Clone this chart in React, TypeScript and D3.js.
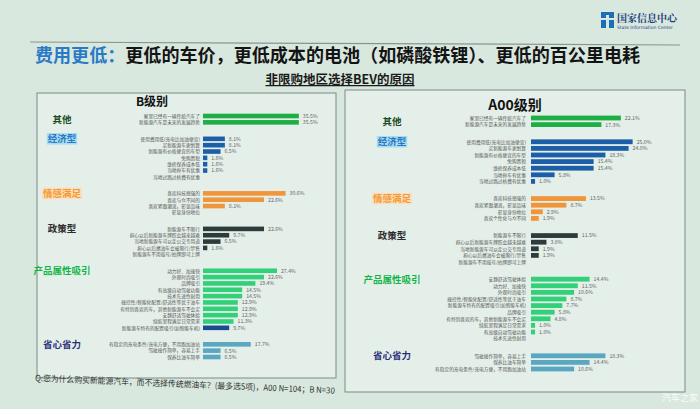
import React from "react";
import * as d3 from "d3";

// ---------- DATA ----------
const groupNames = ["其他", "经济型", "情感满足", "政策型", "产品属性吸引", "省心省力"];

// B级别
const bOtherLabels = ["家里已经有一辆传统汽车了", "新能源汽车是未来的发展趋势"];
const bOtherValues = [35.5, 35.5];
const bEconLabels = ["使用费用低(充电比加油便宜)", "买新能源车更划算", "新能源有价格便宜的车型", "免购置税", "维修保养成本低", "当地停车有优惠", "当地过路过桥费有优惠"];
const bEconValues = [8.1, 8.1, 6.5, 1.6, 1.6, 1.6, 0];
const bEmoLabels = ["喜欢科技感强的", "喜欢与众不同的", "喜欢紧跟潮流，彰显品味", "彰显身份地位"];
const bEmoValues = [30.6, 22.6, 8.1, 0];
const bPolicyLabels = ["新能源车不限行", "担心以后新能源车牌照会越来越难", "当地新能源车可以走公交专用道", "担心以后燃油车会被限行/禁售", "新能源车不用摇号/拍牌即可上牌"];
const bPolicyValues = [22.6, 9.7, 6.5, 1.6, 0];
const bProdLabels = ["动力好、加速快", "外观时尚吸引", "品牌吸引", "有高级自动驾驶功能", "技术先进性耐用", "操控性/智能化配置/舒适性等优于油车", "有特别喜欢的车，其他新能源车不会买", "安静舒适驾驶体验", "续航里程满足日常需求", "新能源车特有的配置吸引(如智能车机)"];
const bProdValues = [27.4, 22.6, 19.4, 14.5, 14.5, 12.9, 12.9, 12.9, 11.3, 9.7];
const bEaseLabels = ["有稳定的充电条件/充电方便，不用跑加油站", "驾驶操作简单，容易上手", "保养比油车简单"];
const bEaseValues = [17.7, 6.5, 6.5];

// A00级别
const aOtherLabels = ["家里已经有一辆传统汽车了", "新能源汽车是未来的发展趋势"];
const aOtherValues = [22.1, 17.3];
const aEconLabels = ["使用费用低(充电比加油便宜)", "买新能源车更划算", "新能源有价格便宜的车型", "免购置税", "维修保养成本低", "当地停车有优惠", "当地过路过桥费有优惠"];
const aEconValues = [25.0, 24.0, 18.3, 15.4, 15.4, 5.8, 1.0];
const aEmoLabels = ["喜欢科技感强的", "喜欢紧跟潮流，彰显品味", "彰显身份地位", "喜欢个性化与众不同"];
const aEmoValues = [13.5, 8.7, 2.9, 1.9];
const aPolicyLabels = ["新能源车不限行", "担心以后新能源车牌照会越来越难", "当地新能源车可以走公交专用道", "担心以后燃油车会被限行/禁售", "新能源车不用摇号/拍牌即可上牌"];
const aPolicyValues = [11.5, 3.8, 1.9, 1.9, 0];
const aProdLabels = ["安静舒适驾驶体验", "动力好、加速快", "外观时尚吸引", "操控性/智能化配置/舒适性等优于油车", "新能源车特有的配置吸引(如智能车机)", "品牌吸引", "有特别喜欢的车，其他新能源车不会买", "续航里程满足日常需求", "有高级自动驾驶功能", "技术先进性耐用"];
const aProdValues = [14.4, 11.5, 10.6, 8.7, 7.7, 5.8, 4.8, 1.0, 1.0, 0];
const aEaseLabels = ["驾驶操作简单，容易上手", "保养比油车简单", "有稳定的充电条件/充电方便，不用跑加油站"];
const aEaseValues = [18.3, 14.4, 10.6];

const titleBlue = "费用更低：";
const titleRest = "更低的车价，更低成本的电池（如磷酸铁锂）、更低的百公里电耗";
const subtitle = "非限购地区选择BEV的原因";
const footer = "Q:您为什么购买新能源汽车，而不选择传统燃油车？(最多选5项)，A00 N=104；B N=30";

// ---------- STYLE ----------
const groupBarColors = ["#1fae45", "#1d5ea8", "#f0953a", "#2d3b3a", "#33d07a", "#5aa7c2"];
const highlightColor = "#1b4c90";
const FONT = "'Noto Sans CJK SC', 'Noto Sans', sans-serif";

type Group = { labels: string[]; values: number[] };

function Panel(props: {
  title: string;
  groups: Group[];
  x0: number; y0: number; x1: number; y1: number;
  titleX: number; titleY: number; titleSize: number;
  catX: number;
  labelRight: number;
  barRange: [number, number];
  maxV: number;
  yFirst: number; yLast: number;
  barH: number;
  highlight?: [number, number];
}) {
  const p = props;
  const gap = 1.6;
  const slots: { g: number; i: number; slot: number }[] = [];
  let s = 0;
  p.groups.forEach((g, gi) => {
    if (gi > 0) s += gap;
    g.labels.forEach((_, i) => {
      slots.push({ g: gi, i, slot: s });
      s += 1;
    });
  });
  const y = d3.scaleLinear().domain([0, s - 1]).range([p.yFirst, p.yLast]);
  const x = d3.scaleLinear().domain([0, p.maxV]).range(p.barRange);
  const catStyle = [
    { color: "#1e4d2b", bg: null },
    { color: "#2a78c8", bg: "#a8ddef" },
    { color: "#f39a35", bg: "#fbe0bf" },
    { color: "#2b2b2b", bg: null },
    { color: "#12b548", bg: null },
    { color: "#2c2f78", bg: null },
  ];
  return (
    <g>
      <rect x={p.x0} y={p.y0} width={p.x1 - p.x0} height={p.y1 - p.y0} fill="#e4efe9" stroke="#7d8a84" strokeWidth={1} />
      <text x={p.titleX} y={p.titleY} fontSize={p.titleSize} fontWeight="bold" fill="#111" textAnchor="middle" fontFamily={FONT}>{p.title}</text>
      {p.groups.map((g, gi) => {
        const rows = slots.filter((r) => r.g === gi);
        const cy = gi === 0 ? (y(rows[0].slot) + y(rows[rows.length - 1].slot)) / 2 : y(rows[0].slot);
        const st = catStyle[gi];
        const fs = 9.5;
        const w = groupNames[gi].length * fs;
        return (
          <g key={gi}>
            {st.bg && <rect x={p.catX - w / 2 - 1} y={cy - fs / 2 - 1} width={w + 2} height={fs + 2} fill={st.bg} />}
            <text x={p.catX} y={cy + fs * 0.36} fontSize={fs} fontWeight="bold" fill={st.color} textAnchor="middle" fontFamily={FONT}>{groupNames[gi]}</text>
          </g>
        );
      })}
      {slots.map((r, k) => {
        const v = p.groups[r.g].values[r.i];
        const lab = p.groups[r.g].labels[r.i];
        const cy = y(r.slot);
        const isHi = p.highlight && p.highlight[0] === r.g && p.highlight[1] === r.i;
        const color = isHi ? highlightColor : groupBarColors[r.g];
        return (
          <g key={k}>
            <text x={p.labelRight} y={cy + 1.8} fontSize={4.7} fill="#555" textAnchor="end" fontFamily={FONT}>{lab}</text>
            {v > 0 && (
              <>
                <rect x={x(0)} y={cy - p.barH / 2} width={x(v) - x(0)} height={p.barH} fill={color} />
                <text x={x(v) + 4} y={cy + 1.9} fontSize={5.2} fill="#666" fontFamily={FONT}>{v.toFixed(1) + "%"}</text>
              </>
            )}
          </g>
        );
      })}
    </g>
  );
}

export default function App() {
  const bGroups: Group[] = [
    { labels: bOtherLabels, values: bOtherValues },
    { labels: bEconLabels, values: bEconValues },
    { labels: bEmoLabels, values: bEmoValues },
    { labels: bPolicyLabels, values: bPolicyValues },
    { labels: bProdLabels, values: bProdValues },
    { labels: bEaseLabels, values: bEaseValues },
  ];
  const aGroups: Group[] = [
    { labels: aOtherLabels, values: aOtherValues },
    { labels: aEconLabels, values: aEconValues },
    { labels: aEmoLabels, values: aEmoValues },
    { labels: aPolicyLabels, values: aPolicyValues },
    { labels: aProdLabels, values: aProdValues },
    { labels: aEaseLabels, values: aEaseValues },
  ];
  return (
    <svg width={700} height={409} style={{ position: "absolute", left: 0, top: 0, display: "block" }} fontFamily={FONT}>
      <rect x={0} y={0} width={700} height={409} fill="#d9e8df" />
      {/* logo */}
      <rect x={601} y={12} width={13} height={16} fill="#1b6fb8" />
      <rect x={606} y={15} width={3} height={13} fill="#d9e8df" />
      <rect x={601} y={18} width={13} height={2} fill="#d9e8df" />
      <text x={617} y={22} fontSize={10} fontWeight="bold" fill="#1d3f7a" fontFamily="'Noto Serif CJK SC', 'Noto Sans CJK SC', serif">国家信息中心</text>
      <text x={617} y={29} fontSize={4.5} fill="#1d3f7a" fontFamily="'DejaVu Sans', sans-serif">State Information Center</text>
      <line x1={30} y1={42} x2={680} y2={45} stroke="#8a9590" strokeWidth={1.2} />
      {/* title */}
      <text x={35} y={62} fontSize={18} fontWeight="bold" fontFamily={FONT} textLength={605} lengthAdjust="spacingAndGlyphs">
        <tspan fill="#2a7bc6">{titleBlue}</tspan>
        <tspan fill="#141414">{titleRest}</tspan>
      </text>
      <text x={340} y={84} fontSize={12.5} fontWeight="bold" fill="#1a1a1a" textAnchor="middle" fontFamily={FONT} textDecoration="underline">{subtitle}</text>
      <Panel title="B级别" groups={bGroups} x0={37} y0={93} x1={336} y1={378}
        titleX={152} titleY={106} titleSize={12} catX={62} labelRight={200}
        barRange={[203, 311]} maxV={40} yFirst={116} yLast={357} barH={4.6} highlight={[4, 9]} />
      <Panel title="A00级别" groups={aGroups} x0={345} y0={90} x1={685} y1={392}
        titleX={515} titleY={110} titleSize={14} catX={392} labelRight={526}
        barRange={[531, 653]} maxV={30} yFirst={118} yLast={369} barH={4.8} />
      <text x={35} y={381} fontSize={8.5} fill="#333" fontFamily={FONT} transform="rotate(2.4 35 381)" textLength={300} lengthAdjust="spacingAndGlyphs">{footer}</text>
      <text x={662} y={401} fontSize={9} fill="#ffffff" fontFamily={FONT} opacity={0.85}>汽车之家</text>
    </svg>
  );
}
